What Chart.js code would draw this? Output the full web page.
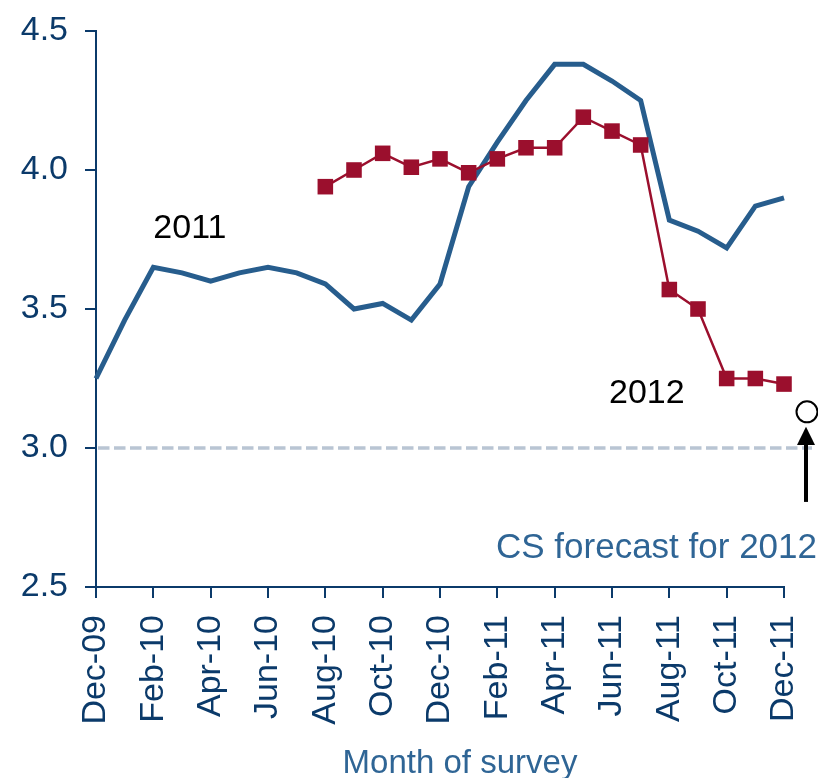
<!DOCTYPE html>
<html><head><meta charset="utf-8">
<script src="https://cdn.jsdelivr.net/npm/chart.js@4.4.1/dist/chart.umd.min.js"></script>
<style>html,body{margin:0;padding:0;background:#fff}#wrap{width:818px;height:778px;position:relative}</style>
</head><body><div id="wrap"><canvas id="c" width="818" height="778"></canvas></div>
<script>
// ---- data ----
const months = ["Dec-09","Jan-10","Feb-10","Mar-10","Apr-10","May-10","Jun-10","Jul-10","Aug-10","Sep-10","Oct-10","Nov-10","Dec-10",
                "Jan-11","Feb-11","Mar-11","Apr-11","May-11","Jun-11","Jul-11","Aug-11","Sep-11","Oct-11","Nov-11","Dec-11"];
const series2011 = [3.25,3.46,3.65,3.63,3.60,3.63,3.65,3.63,3.59,3.50,3.52,3.46,3.59,
                    3.94,4.10,4.25,4.38,4.38,4.32,4.25,3.82,3.78,3.72,3.87,3.90];
const series2012 = [null,null,null,null,null,null,null,null,3.94,4.00,4.06,4.01,4.04,
                    3.99,4.04,4.08,4.08,4.19,4.14,4.09,3.57,3.50,3.25,3.25,3.23];
const yTickValues = [2.5,3.0,3.5,4.0,4.5];
const referenceLevel = 3.0;
const csForecast2012 = 3.13;
const labels = {s2011:"2011", s2012:"2012", forecast:"CS forecast for 2012", xTitle:"Month of survey"};

// ---- style ----
const AXIS = '#0b3a6a';
const BLUE = '#275d8d';
const RED = '#9b0f2d';
const TITLE = '#2f6595';
const FONT = '"Liberation Sans", Arial, sans-serif';
const FS = 34;

const annot = {
  id: 'annot',
  beforeDatasetsDraw(chart) {
    const {ctx, chartArea: a, scales: {y}} = chart;
    const py = y.getPixelForValue(referenceLevel);
    ctx.save();
    ctx.strokeStyle = '#b9c5d3';
    ctx.lineWidth = 3.5;
    ctx.setLineDash([11.5, 4.5]);
    ctx.beginPath();
    ctx.moveTo(a.left + 2, py);
    ctx.lineTo(a.right + 28, py);
    ctx.stroke();
    ctx.restore();
  },
  afterDraw(chart) {
    const {ctx, chartArea: a, scales: {x, y}} = chart;
    ctx.save();
    // arrow + forecast marker
    const ax = x.getPixelForValue(months.length - 1) + 22;
    const tail = y.getPixelForValue(2.806);
    const base = y.getPixelForValue(3.011);
    const tip = y.getPixelForValue(3.076);
    ctx.strokeStyle = '#000';
    ctx.fillStyle = '#000';
    ctx.lineWidth = 4;
    ctx.beginPath(); ctx.moveTo(ax, tail); ctx.lineTo(ax, base); ctx.stroke();
    ctx.beginPath(); ctx.moveTo(ax - 9, base); ctx.lineTo(ax + 9, base); ctx.lineTo(ax, tip); ctx.closePath(); ctx.fill();
    const cy = y.getPixelForValue(csForecast2012);
    ctx.beginPath(); ctx.arc(ax + 1, cy, 10.5, 0, Math.PI * 2);
    ctx.fillStyle = '#fff'; ctx.fill();
    ctx.lineWidth = 2; ctx.strokeStyle = '#000'; ctx.stroke();

    // text annotations
    ctx.font = FS + 'px ' + FONT;
    ctx.textBaseline = 'alphabetic';
    ctx.fillStyle = '#000';
    ctx.textAlign = 'left';
    ctx.fillText(labels.s2011, x.getPixelForValue(2), y.getPixelForValue(3.755));
    ctx.fillText(labels.s2012, x.getPixelForValue(18) - 3, y.getPixelForValue(3.162));
    ctx.fillStyle = TITLE;
    ctx.textAlign = 'right';
    ctx.font = '35px ' + FONT;
    ctx.fillText(labels.forecast, chart.width - 1, y.getPixelForValue(2.604));
    ctx.font = '33px ' + FONT;
    ctx.textAlign = 'center';
    ctx.fillText(labels.xTitle, (a.left + a.right) / 2 + 20, chart.height - 5);
    ctx.restore();
  }
};

new Chart(document.getElementById('c'), {
  type: 'line',
  data: {
    labels: months,
    datasets: [
      {
        label: labels.s2012,
        data: series2012,
        borderColor: RED,
        backgroundColor: RED,
        borderWidth: 2.5,
        pointStyle: 'rect',
        pointRadius: 11,
        pointBorderWidth: 0,
        pointBackgroundColor: RED,
        tension: 0,
        clip: false
      },
      {
        label: labels.s2011,
        data: series2011,
        borderColor: BLUE,
        borderWidth: 5,
        pointRadius: 0,
        tension: 0,
        clip: false
      }
    ]
  },
  options: {
    responsive: false,
    animation: false,
    devicePixelRatio: 1,
    layout: {padding: {top: 31, right: 34, left: 0, bottom: 0}},
    plugins: {legend: {display: false}, tooltip: {enabled: false}},
    scales: {
      x: {
        type: 'category',
        offset: false,
        border: {color: AXIS, width: 2},
        grid: {
          drawOnChartArea: false,
          drawTicks: true,
          tickLength: 11,
          lineWidth: 2,
          color: ctx => (ctx.index % 2 === 0 ? AXIS : 'rgba(0,0,0,0)')
        },
        ticks: {
          autoSkip: false,
          maxRotation: 90,
          minRotation: 90,
          padding: 17,
          color: AXIS,
          font: {family: FONT, size: FS},
          callback: (v, i) => (i % 2 === 0 ? months[i] : '')
        },
        afterFit: s => { s.height = 191; s.paddingLeft = 0; s.paddingRight = 0; }
      },
      y: {
        min: yTickValues[0],
        max: yTickValues[yTickValues.length - 1],
        border: {color: AXIS, width: 2},
        grid: {drawOnChartArea: false, drawTicks: true, tickLength: 11, lineWidth: 2, color: AXIS},
        afterBuildTicks: s => { s.ticks = yTickValues.map(v => ({value: v})); },
        ticks: {
          padding: 17,
          color: AXIS,
          font: {family: FONT, size: FS},
          callback: v => Number(v).toFixed(1)
        },
        afterFit: s => { s.width = 96; s.paddingTop = 0; s.paddingBottom = 0; }
      }
    }
  },
  plugins: [annot]
});
</script>
</body></html>
